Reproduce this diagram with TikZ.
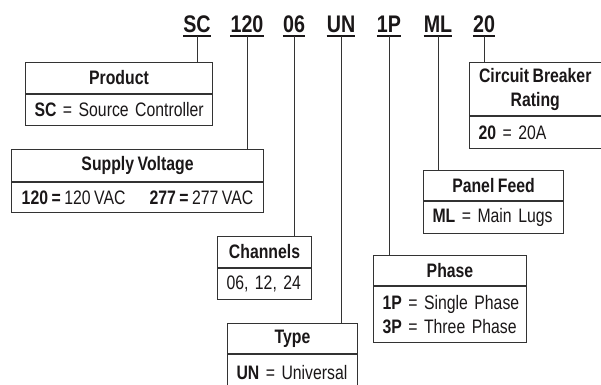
\documentclass[tikz,border=0pt]{standalone}
\usepackage{fontspec}
\setmainfont{Liberation Sans}[FakeStretch=0.81, WordSpace=0.8]
\newfontfamily\codefont{Liberation Sans}[FakeStretch=0.82]
\definecolor{ink}{HTML}{1A1718}
\definecolor{rulec}{HTML}{333333}
\tikzset{
  hdr/.style={draw=rulec, line width=1pt, font=\fontsize{19.5}{24}\selectfont\bfseries, text=ink, align=center, inner sep=0pt, anchor=north west},
  bodyl/.style={draw=rulec, line width=1pt, font=\fontsize{19.5}{24}\selectfont, text=ink, align=left, inner xsep=9pt, inner ysep=0pt, anchor=north west},
  bodyc/.style={draw=rulec, line width=1pt, font=\fontsize{19.5}{24}\selectfont, text=ink, align=center, inner sep=0pt, anchor=north west},
  code/.style={font=\codefont\fontsize{24}{24}\selectfont\bfseries, text=ink, inner sep=0pt, anchor=base},
  link/.style={draw=rulec, line width=1pt},
  uline/.style={draw=ink, line width=1.6pt}
}
\begin{document}
\begin{tikzpicture}[x=1pt,y=-1pt]
\useasboundingbox (0,0) rectangle (601,384);
\clip (0,0) rectangle (601,384);
% code letters
\node[code] (c1) at (197,32) {SC};
\node[code] (c2) at (247,32) {120};
\node[code] (c3) at (294,32) {06};
\node[code] (c4) at (341,32) {UN};
\node[code] (c5) at (389,32) {1P};
\node[code] (c6) at (438,32) {ML};
\node[code] (c7) at (484,32) {20};
% boxes
\node[hdr, minimum width=187pt, minimum height=31pt] (prodh) at (25,62) {Product};
\node[bodyl, minimum width=187pt, minimum height=31pt, text width=169pt] (prodb) at (prodh.south west) {\mbox{\textbf{SC} = Source Controller}};
\node[hdr, minimum width=252pt, minimum height=32pt] (supph) at (11,149) {Supply Voltage};
\node[bodyc, minimum width=252pt, minimum height=30pt] (suppb) at (supph.south west) {\textbf{120 =} 120 VAC\hspace{24pt}\textbf{277 =} 277 VAC};
\node[hdr, minimum width=94pt, minimum height=31pt] (chanh) at (217,236) {Channels};
\node[bodyl, minimum width=94pt, minimum height=31pt, text width=76pt] (chanb) at (chanh.south west) {\mbox{06, 12, 24}};
\node[hdr, minimum width=130pt, minimum height=30pt] (typeh) at (227,323) {Type};
\node[bodyl, minimum width=130pt, minimum height=36pt, text width=112pt] (typeb) at (typeh.south west) {\mbox{\textbf{UN} = Universal}};
\node[hdr, minimum width=153pt, minimum height=30pt] (phaseh) at (373,255) {Phase};
\node[bodyl, minimum width=153pt, minimum height=56pt, text width=135pt] (phaseb) at (phaseh.south west) {\mbox{\textbf{1P} = Single Phase}\\\mbox{\textbf{3P} = Three Phase}};
\node[hdr, minimum width=140pt, minimum height=30pt] (panelh) at (423,170) {Panel Feed};
\node[bodyl, minimum width=140pt, minimum height=32pt, text width=122pt] (panelb) at (panelh.south west) {\mbox{\textbf{ML} = Main Lugs}};
\node[hdr, minimum width=131.5pt, minimum height=53pt] (cbh) at (469,62) {Circuit Breaker\\Rating};
\node[bodyl, minimum width=131.5pt, minimum height=32pt, text width=113.5pt] (cbb) at (cbh.south west) {\mbox{\textbf{20} = 20A}};
% underlines and connectors
\foreach \c/\b in {c1/prodh, c2/supph, c3/chanh, c4/typeh, c5/phaseh, c6/panelh, c7/cbh}{
  \draw[uline] ([yshift=-4pt]\c.base west) -- ([yshift=-4pt]\c.base east);
  \draw[link] ([yshift=-4pt]\c.base) -- (\c.base |- \b.north);
}
\end{tikzpicture}
\end{document}
